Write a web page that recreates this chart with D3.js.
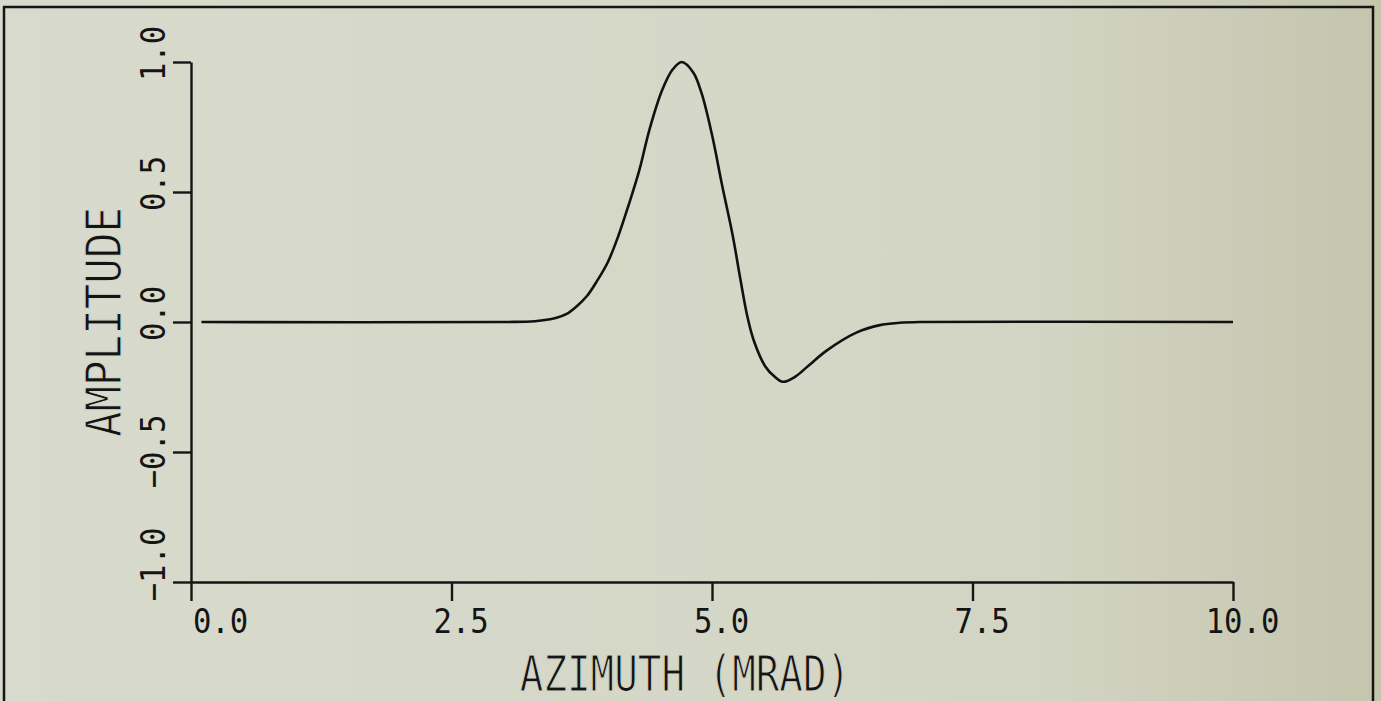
<!DOCTYPE html>
<html>
<head>
<meta charset="utf-8">
<script src="https://cdn.jsdelivr.net/npm/d3@7"></script>
<style>
  body { margin: 0; background: #d5d7c8; }
  svg { display: block; }
  .lbl { font-family: "DejaVu Sans Mono", monospace; fill: #141414; }
</style>
</head>
<body>
<script>
// azimuth (mrad) / normalized amplitude, read point by point
let azimuth   = [0.1, 3.0, 3.3, 3.5, 3.6, 3.7, 3.8, 3.9, 4.0, 4.1, 4.2, 4.3, 4.4, 4.52, 4.62, 4.71, 4.82, 4.9, 5.0, 5.1, 5.2, 5.27, 5.34, 5.4, 5.51, 5.6, 5.68, 5.8, 5.92, 6.1, 6.39, 6.61, 6.8, 7.0, 10.0];
let amplitude = [0, 0, 0.003, 0.015, 0.03, 0.06, 0.1, 0.16, 0.23, 0.33, 0.45, 0.58, 0.74, 0.89, 0.97, 1.0, 0.96, 0.88, 0.72, 0.52, 0.33, 0.17, 0.02, -0.07, -0.17, -0.21, -0.23, -0.21, -0.17, -0.11, -0.04, -0.012, -0.003, 0, 0];
let xTicks = [0, 2.5, 5, 7.5, 10];
let yTicks = [-1, -0.5, 0, 0.5, 1];

let W = 1381, H = 701;
let x0 = 191, x1 = 1233, yTop = 62, yBot = 582;

let svg = d3.select('body')
    .append('svg')
        .attr('width', W)
        .attr('height', H);

// paper shading, a bit darker towards the right edge
let grad = svg.append('defs').append('linearGradient')
    .attr('id', 'paper')
    .attr('x1', 0).attr('x2', 1).attr('y1', 0).attr('y2', 0);
grad.append('stop').attr('offset', 0).attr('stop-color', '#d8dacd');
grad.append('stop').attr('offset', 0.75).attr('stop-color', '#d3d5c4');
grad.append('stop').attr('offset', 1).attr('stop-color', '#c3c5ad');
svg.append('rect').attr('width', W).attr('height', H).attr('fill', 'url(#paper)');

// outer frame
svg.append('rect')
    .attr('x', 4).attr('y', 7)
    .attr('width', 1369).attr('height', 720)
    .attr('fill', 'none')
    .attr('stroke', '#151515')
    .attr('stroke-width', 2.5);

let x = d3.scaleLinear().domain([0, 10]).range([x0, x1]);
let y = d3.scaleLinear().domain([-1, 1]).range([yBot, yTop]);

let fmt = d3.format('.1f');

function StyleAxis(g) {
    g.selectAll('path, line')
        .attr('stroke', '#151515')
        .attr('stroke-width', 2.4);
    g.selectAll('text').remove();
}

let gx = svg.append('g')
    .attr('transform', `translate(0,${yBot})`)
    .call(d3.axisBottom(x).tickValues(xTicks).tickSize(19).tickSizeOuter(0))
    .call(StyleAxis);
gx.selectAll('.tick').append('text')
    .attr('class', 'lbl')
    .attr('text-anchor', 'middle')
    .attr('font-size', 34)
    .attr('transform', (d, i) => `translate(${i == 0 ? 29 : 9},51) scale(0.9,1)`)
    .text(d => fmt(d));

let gy = svg.append('g')
    .attr('transform', `translate(${x0},0)`)
    .call(d3.axisLeft(y).tickValues(yTicks).tickSize(18).tickSizeOuter(0))
    .call(StyleAxis);
gy.selectAll('.tick').append('text')
    .attr('class', 'lbl')
    .attr('text-anchor', 'middle')
    .attr('font-size', 34)
    .attr('transform', d => {
        let off = d >= 0 ? -9 : (d == -1 ? -18 : -1);
        return `translate(-26,${off}) rotate(-90) scale(0.9,1)`;
    })
    .text(d => fmt(d));

// axis titles
svg.append('text')
    .attr('class', 'lbl')
    .attr('text-anchor', 'middle')
    .attr('font-size', 49)
    .attr('stroke', '#d5d7c8').attr('stroke-width', 1.2)
    .attr('transform', 'translate(685,691) scale(0.8,1)')
    .text('AZIMUTH (MRAD)');

svg.append('text')
    .attr('class', 'lbl')
    .attr('text-anchor', 'middle')
    .attr('font-size', 50)
    .attr('stroke', '#d5d7c8').attr('stroke-width', 1.2)
    .attr('transform', `translate(121,${y(0)}) rotate(-90) scale(0.85,1)`)
    .text('AMPLITUDE');

let line = d3.line()
    .x(d => x(d[0]))
    .y(d => y(d[1]))
    .curve(d3.curveCatmullRom.alpha(0.5));

svg.append('path')
    .datum(d3.zip(azimuth, amplitude))
    .attr('d', line)
    .attr('fill', 'none')
    .attr('stroke', '#111')
    .attr('stroke-width', 2.6)
    .attr('stroke-linejoin', 'round');
</script>
</body>
</html>
